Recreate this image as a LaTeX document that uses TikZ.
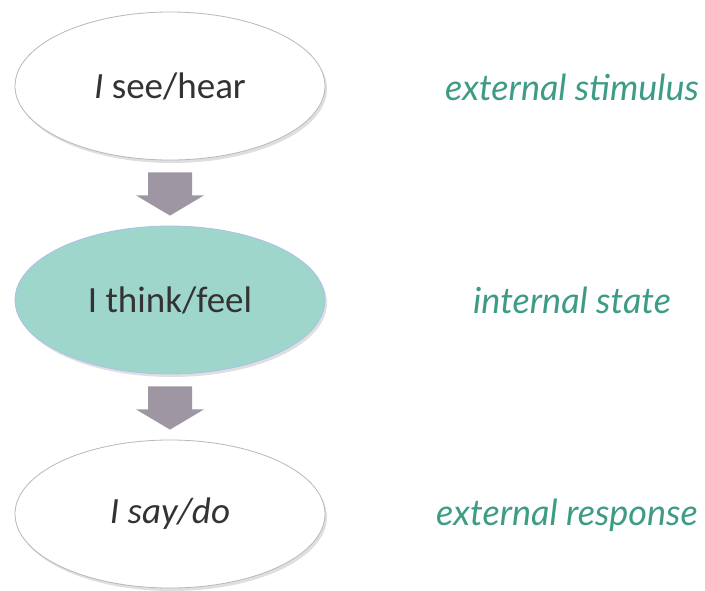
\documentclass[tikz,border=0pt]{standalone}
\usepackage{fontspec}
\setmainfont{Carlito}
\newfontfamily\tagfont{Lato}
\usetikzlibrary{shapes.geometric,shadows,calc}
\definecolor{thinkfill}{HTML}{9FD6CC}
\definecolor{tagteal}{HTML}{3E9C86}
\definecolor{arrowgray}{HTML}{9E97A3}
\definecolor{rimgray}{HTML}{B8B8B8}
\definecolor{inkgray}{HTML}{333333}
\tikzset{
  bubble/.style={ellipse, draw=rimgray, line width=0.8pt, fill=white,
    minimum width=310pt, minimum height=148pt, inner sep=0pt, text=inkgray,
    font=\fontsize{37}{44}\selectfont,
    drop shadow={shadow xshift=2pt, shadow yshift=-3pt, opacity=0.25, fill=gray}},
  tag/.style={text=tagteal, font=\tagfont\itshape\fontsize{36}{42}\selectfont},
  blockarrow/.style={fill=arrowgray}
}
\begin{document}
\begin{tikzpicture}[x=1pt,y=1pt]
    \useasboundingbox (0,0) rectangle (705,-590);
    \node[bubble] (see) at (170,-86) {\textit{I} see/hear};
    \node[bubble, fill=thinkfill, draw=thinkfill!70!blue!60] (think) at (170,-300) {I think/feel};
    \node[bubble] (say) at (170,-514) {\textit{I say/do}};
    % block arrows
    \fill[blockarrow] ($(see.south)+(-22,-12)$) -- ($(see.south)+(22,-12)$) -- ($(see.south)+(22,-35)$)
      -- ($(see.south)+(34,-35)$) -- ($(think.north)+(0,10)$) -- ($(see.south)+(-34,-35)$)
      -- ($(see.south)+(-22,-35)$) -- cycle;
    \fill[blockarrow] ($(think.south)+(-22,-12)$) -- ($(think.south)+(22,-12)$) -- ($(think.south)+(22,-35)$)
      -- ($(think.south)+(34,-35)$) -- ($(say.north)+(0,10)$) -- ($(think.south)+(-34,-35)$)
      -- ($(think.south)+(-22,-35)$) -- cycle;
    \node[tag] (stimulus) at (572,-87) {external stimulus};
    \node[tag] (state) at (572,-300) {internal state};
    \node[tag] (response) at (567,-515) {external response};
\end{tikzpicture}
\end{document}
